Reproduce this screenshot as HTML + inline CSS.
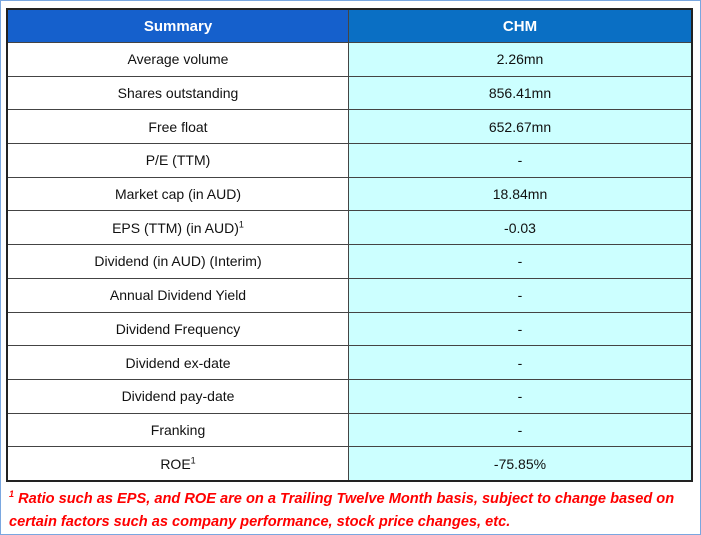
<!DOCTYPE html>
<html><head><style>
body{margin:0;width:701px;height:535px;background:#fff;position:relative;overflow:hidden;font-family:"Liberation Sans",Carlito,sans-serif;}
.frame{position:absolute;left:0;top:0;width:699px;height:533px;border:1px solid #7aa7e0;}
table{position:absolute;left:6px;top:8px;width:687px;border-collapse:collapse;border:2px solid #222;}
td{border:1px solid #444;text-align:center;font-size:14px;color:#111;height:32.7px;padding:0;}
td.l{width:340px;background:#fff;}
td.r{background:#ccffff;}
th{height:32px;color:#fff;font-size:15px;font-weight:bold;border:1px solid #444;padding:0;}
th.l{background:#1560cc;width:340px;}
th.r{background:#0a6fc4;}
sup{font-size:9px;line-height:0;}
.fn{position:absolute;left:9px;top:488px;width:690px;color:#f00;font-style:italic;font-weight:bold;font-size:14.6px;line-height:23px;}
</style></head><body>
<div class="frame"></div>
<table>
<tr><th class="l">Summary</th><th class="r">CHM</th></tr>
<tr><td class="l">Average volume</td><td class="r">2.26mn</td></tr>
<tr><td class="l">Shares outstanding</td><td class="r">856.41mn</td></tr>
<tr><td class="l">Free float</td><td class="r">652.67mn</td></tr>
<tr><td class="l">P/E (TTM)</td><td class="r">-</td></tr>
<tr><td class="l">Market cap (in AUD)</td><td class="r">18.84mn</td></tr>
<tr><td class="l">EPS (TTM) (in AUD)<sup>1</sup></td><td class="r">-0.03</td></tr>
<tr><td class="l">Dividend (in AUD) (Interim)</td><td class="r">-</td></tr>
<tr><td class="l">Annual Dividend Yield</td><td class="r">-</td></tr>
<tr><td class="l">Dividend Frequency</td><td class="r">-</td></tr>
<tr><td class="l">Dividend ex-date</td><td class="r">-</td></tr>
<tr><td class="l">Dividend pay-date</td><td class="r">-</td></tr>
<tr><td class="l">Franking</td><td class="r">-</td></tr>
<tr><td class="l">ROE<sup>1</sup></td><td class="r">-75.85%</td></tr>
</table>
<div class="fn"><sup>1</sup> Ratio such as EPS, and ROE are on a Trailing Twelve Month basis, subject to change based on certain factors such as company performance, stock price changes, etc.</div>
</body></html>
